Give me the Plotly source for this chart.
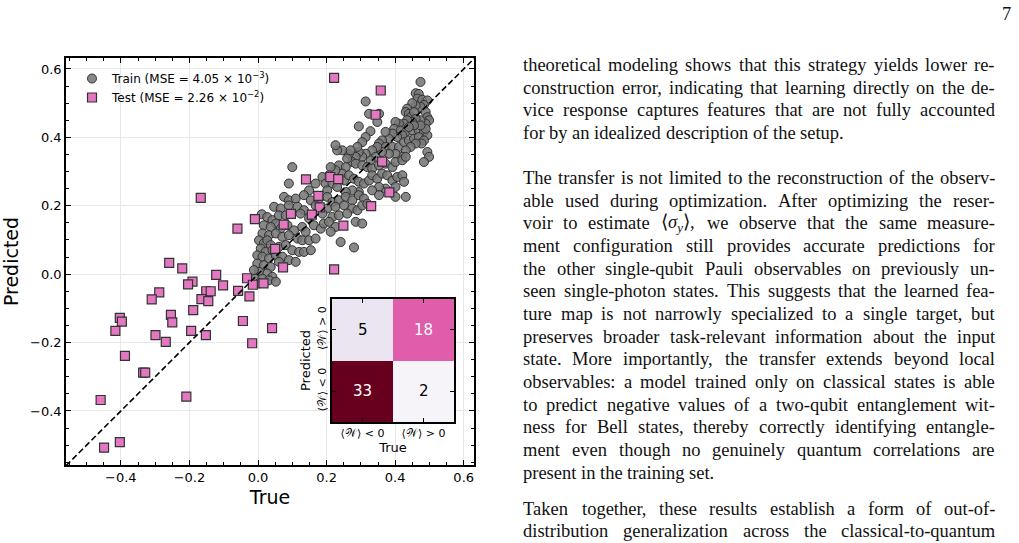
import plotly.graph_objects as go

# ---------------- data ----------------
train_true = [
    0.474, 0.460, 0.469, 0.465, 0.479, 0.494, 0.484, 0.474, 0.460, 0.450,
    0.435, 0.431, 0.440, 0.445, 0.455, 0.489, 0.494, 0.499, 0.489, 0.474,
    0.460, 0.450, 0.435, 0.426, 0.411, 0.401, 0.397, 0.416, 0.431, 0.450,
    0.469, 0.484, 0.494, 0.489, 0.474, 0.455, 0.440, 0.421, 0.406, 0.392,
    0.382, 0.372, 0.362, 0.353, 0.372, 0.392, 0.411, 0.426, 0.440, 0.455,
    0.469, 0.484, 0.477, 0.460, 0.445, 0.431, 0.421, 0.401, 0.382, 0.362,
    0.348, 0.333, 0.343, 0.328, 0.314, 0.304, 0.294, 0.285, 0.275, 0.265,
    0.246, 0.231, 0.226, 0.260, 0.285, 0.304, 0.319, 0.333, 0.353, 0.372,
    0.392, 0.401, 0.421, 0.431, 0.494, 0.499, 0.484, 0.314, 0.324, 0.353,
    0.348, 0.294, 0.328, 0.314, 0.304, 0.290, 0.270, 0.236, 0.256, 0.246,
    0.226, 0.212, 0.207, 0.188, 0.197, 0.217, 0.231, 0.251, 0.265, 0.280,
    0.294, 0.309, 0.324, 0.333, 0.348, 0.362, 0.377, 0.392, 0.406, 0.421,
    0.426, 0.401, 0.372, 0.353, 0.333, 0.294, 0.275, 0.256, 0.202, 0.168,
    0.149, 0.090, 0.100,
    0.076, 0.090, 0.110, 0.134, 0.154, 0.178, 0.202, 0.217, 0.236, 0.256,
    0.275, 0.294, 0.309, 0.353, 0.401, 0.431, 0.047, 0.066, 0.090, 0.115,
    0.134, 0.168, 0.202, 0.226, 0.251, 0.275, 0.290, 0.304, 0.319, 0.011,
    0.027, 0.042, 0.061, 0.081, 0.124, 0.149, 0.188, 0.217, 0.236, 0.260,
    0.285, 0.304, 0.052, 0.017, 0.037, 0.066, 0.086, 0.105, 0.129, 0.139,
    0.163, 0.183, 0.192, 0.207, 0.226, 0.212, 0.013, 0.032, 0.052, 0.071,
    0.090, 0.115, 0.129, 0.149, 0.168, 0.241, 0.280, 0.003, 0.017, 0.027,
    0.037, 0.008, 0.022, 0.042, 0.061, 0.081, 0.100, 0.120, 0.134, 0.154,
    -0.002, 0.013, 0.032, 0.052, 0.071, 0.090, 0.110, -0.002, 0.017, 0.037,
    0.003, 0.027, 0.042, -0.007, 0.013, 0.032, 0.052, 0.003, -0.012, 0.061,
]
train_pred = [
    0.562, 0.529, 0.527, 0.513, 0.510, 0.508, 0.495, 0.489, 0.493, 0.500,
    0.484, 0.474, 0.469, 0.459, 0.474, 0.474, 0.459, 0.450, 0.440, 0.450,
    0.454, 0.445, 0.450, 0.440, 0.440, 0.445, 0.425, 0.420, 0.416, 0.420,
    0.420, 0.416, 0.406, 0.425, 0.435, 0.435, 0.430, 0.406, 0.401, 0.411,
    0.396, 0.416, 0.391, 0.382, 0.372, 0.372, 0.372, 0.386, 0.391, 0.396,
    0.401, 0.391, 0.382, 0.382, 0.372, 0.362, 0.343, 0.352, 0.352, 0.357,
    0.372, 0.362, 0.343, 0.333, 0.352, 0.343, 0.357, 0.343, 0.328, 0.352,
    0.362, 0.362, 0.377, 0.338, 0.323, 0.318, 0.313, 0.309, 0.318, 0.323,
    0.313, 0.328, 0.333, 0.343, 0.357, 0.343, 0.328, 0.505, 0.469, 0.469,
    0.445, 0.432, 0.418, 0.401, 0.386, 0.372, 0.362, 0.318, 0.313, 0.294,
    0.304, 0.313, 0.289, 0.284, 0.265, 0.265, 0.255, 0.274, 0.289, 0.279,
    0.270, 0.265, 0.274, 0.289, 0.279, 0.294, 0.289, 0.274, 0.284, 0.289,
    0.270, 0.255, 0.250, 0.255, 0.245, 0.240, 0.245, 0.240, 0.245, 0.265,
    0.245, 0.265, 0.313,
    0.226, 0.216, 0.221, 0.231, 0.216, 0.221, 0.226, 0.211, 0.216, 0.226,
    0.216, 0.231, 0.221, 0.231, 0.226, 0.226, 0.197, 0.192, 0.201, 0.197,
    0.187, 0.201, 0.192, 0.197, 0.201, 0.192, 0.187, 0.201, 0.206, 0.175,
    0.167, 0.158, 0.172, 0.172, 0.177, 0.163, 0.177, 0.167, 0.172, 0.177,
    0.153, 0.148, 0.148, 0.143, 0.138, 0.133, 0.143, 0.128, 0.138, 0.124,
    0.143, 0.133, 0.148, 0.153, 0.138, 0.124, 0.119, 0.114, 0.119, 0.109,
    0.114, 0.104, 0.099, 0.099, 0.104, 0.094, 0.078, 0.099, 0.090, 0.099,
    0.085, 0.075, 0.065, 0.070, 0.080, 0.085, 0.070, 0.065, 0.065, 0.070,
    0.055, 0.051, 0.046, 0.055, 0.051, 0.041, 0.036, 0.031, 0.026, 0.021,
    0.007, 0.002, -0.008, -0.013, -0.013, -0.018, -0.022, -0.027, 0.012, 0.036,
]

test_true = [
    0.222, 0.358, 0.343, 0.362, 0.140, 0.211, 0.234, 0.383, 0.176, 0.330,
    0.180, 0.096, 0.157, -0.009, 0.075, 0.249, -0.060, 0.050, 0.073, 0.222,
    -0.032, -0.015, 0.016, -0.058, -0.025, -0.044, 0.041, -0.017, -0.167, -0.259,
    -0.221, -0.191, -0.204, -0.122, -0.102, -0.151, -0.138, -0.165, -0.145, -0.288,
    -0.310, -0.189, -0.254, -0.250, -0.403, -0.397, -0.416, -0.299, -0.195, -0.152,
    -0.269, -0.388, -0.335, -0.329, -0.459, -0.209, -0.403, -0.449,
]
test_pred = [
    0.574, 0.537, 0.466, 0.329, 0.277, 0.284, 0.278, 0.239, 0.229, 0.199,
    0.195, 0.176, 0.174, 0.161, 0.145, 0.142, 0.133, 0.074, 0.020, 0.014,
    -0.012, -0.031, -0.027, -0.049, -0.065, -0.137, -0.158, -0.202, 0.223, 0.033,
    0.017, -0.022, -0.030, -0.002, -0.033, -0.050, -0.050, -0.073, -0.079, -0.053,
    -0.074, -0.105, -0.119, -0.141, -0.128, -0.139, -0.166, -0.178, -0.166, -0.178,
    -0.198, -0.239, -0.288, -0.288, -0.368, -0.358, -0.491, -0.507,
]

train_label = "Train (MSE = 4.05 × 10<sup>−3</sup>)"
test_label = "Test (MSE = 2.26 × 10<sup>−2</sup>)"

x_ticks = [-0.4, -0.2, 0.0, 0.2, 0.4, 0.6]
y_ticks = [-0.4, -0.2, 0.0, 0.2, 0.4, 0.6]
x_range = [-0.56, 0.63]
y_range = [-0.558, 0.632]

# confusion matrix: rows = predicted (<0, >0), cols = true (<0, >0)
cm_counts = [[33, 2], [5, 18]]
cm_labels = ["⟨𝒲⟩ < 0", "⟨𝒲⟩ > 0"]

page_number = "7"
paragraphs = [
    ([
        "theoretical modeling shows that this strategy yields lower re-",
        "construction error, indicating that learning directly on the de-",
        "vice response captures features that are not fully accounted",
        "for by an idealized description of the setup.",
    ], True),
    ([
        "The transfer is not limited to the reconstruction of the observ-",
        "able used during optimization. After optimizing the reser-",
        "voir to estimate ⟨σy⟩, we observe that the same measure-",
        "ment configuration still provides accurate predictions for",
        "the other single-qubit Pauli observables on previously un-",
        "seen single-photon states. This suggests that the learned fea-",
        "ture map is not narrowly specialized to a single target, but",
        "preserves broader task-relevant information about the input",
        "state. More importantly, the transfer extends beyond local",
        "observables: a model trained only on classical states is able",
        "to predict negative values of a two-qubit entanglement wit-",
        "ness for Bell states, thereby correctly identifying entangle-",
        "ment even though no genuinely quantum correlations are",
        "present in the training set.",
    ], True),
    ([
        "Taken together, these results establish a form of out-of-",
        "distribution generalization across the classical-to-quantum",
    ], False),
]

# ---------------- figure ----------------
W, H = 1019, 543
fig = go.Figure()

fig.add_trace(go.Scatter(
    x=train_true, y=train_pred, mode="markers", name=train_label,
    marker=dict(symbol="circle", size=9, color="rgba(120,120,120,0.88)",
                line=dict(color="#303030", width=1)),
    xaxis="x", yaxis="y"))
fig.add_trace(go.Scatter(
    x=test_true, y=test_pred, mode="markers", name=test_label,
    marker=dict(symbol="square", size=9, color="#e377c2",
                line=dict(color="#333333", width=1.2)),
    xaxis="x", yaxis="y"))
lo = min(x_range[0], y_range[0])
hi = max(x_range[1], y_range[1])
fig.add_trace(go.Scatter(
    x=[lo, hi], y=[lo, hi], mode="lines", showlegend=False, hoverinfo="skip",
    line=dict(color="black", width=1.6, dash="6px,3px"), xaxis="x", yaxis="y"))

zmin = min(min(r) for r in cm_counts)
zmax = max(max(r) for r in cm_counts)
fig.add_trace(go.Heatmap(
    z=cm_counts, x=[0, 1], y=[0, 1], colorscale="PuRd", zmin=zmin, zmax=zmax,
    showscale=False, xaxis="x2", yaxis="y2", hoverinfo="skip"))

annotations = []
for i, row in enumerate(cm_counts):
    for j, v in enumerate(row):
        frac = (v - zmin) / (zmax - zmin)
        annotations.append(dict(
            x=j, y=i, xref="x2", yref="y2", text=str(v), showarrow=False,
            font=dict(family="DejaVu Sans", size=15,
                      color="white" if frac > 0.45 else "black")))

def px_x(v):
    return v / W

def px_y(v):
    return 1 - v / H

main_x_dom = [px_x(66), px_x(474)]
main_y_dom = [px_y(465), px_y(58)]
ins_x_dom = [px_x(332), px_x(454)]
ins_y_dom = [px_y(422), px_y(299)]

axis_common = dict(
    ticks="inside", ticklen=5, tickwidth=1.1, tickcolor="black",
    showline=True, linecolor="black", linewidth=1.5, mirror="ticks",
    showgrid=True, gridcolor="#e8e8e8", gridwidth=1, zeroline=False,
    tickformat=".1f", tickfont=dict(size=13, color="black"),
    minor=dict(tickmode="linear", tick0=0, dtick=0.05, ticks="inside",
               ticklen=3, tickcolor="black", tickwidth=1, showgrid=False),
)
inset_common = dict(
    ticks="inside", ticklen=4, tickwidth=1, tickcolor="black",
    showline=True, linecolor="black", linewidth=1.5, mirror="ticks",
    showgrid=False, zeroline=False, range=[-0.5, 1.5],
    tickvals=[0, 1], ticktext=cm_labels,
    tickfont=dict(size=11, color="black"),
)

fig.update_layout(
    width=W, height=H, margin=dict(l=0, r=0, t=0, b=0),
    paper_bgcolor="white", plot_bgcolor="white",
    font=dict(family="DejaVu Sans", color="black"),
    showlegend=True,
    legend=dict(x=px_x(72), y=px_y(64), xanchor="left", yanchor="top",
                bgcolor="rgba(0,0,0,0)", font=dict(size=12, color="black"),
                itemwidth=30, tracegroupgap=0),
    xaxis=dict(domain=main_x_dom, range=x_range, tickvals=x_ticks, anchor="y",
               title=dict(text="True", font=dict(size=19), standoff=6),
               **axis_common),
    yaxis=dict(domain=main_y_dom, range=y_range, tickvals=y_ticks, anchor="x",
               title=dict(text="Predicted", font=dict(size=19), standoff=10),
               **axis_common),
    xaxis2=dict(domain=ins_x_dom, anchor="y2",
                title=dict(text="True", font=dict(size=13), standoff=2),
                **inset_common),
    yaxis2=dict(domain=ins_y_dom, anchor="x2", tickangle=-90,
                title=dict(text="Predicted", font=dict(size=13), standoff=2),
                **inset_common),
)

# ---------------- page text (justified) ----------------
TXT_FONT = "Liberation Serif"
TXT_SIZE = 18.5
COL_L, COL_R = 522, 994
BASE0, LINE_H = 71.0, 22.67
PARA_OFFSETS = [0.0, 22.3, 35.5]

_w = dict(zip("abcdefghijklmnopqrstuvwxyz",
              [444, 500, 444, 500, 444, 333, 500, 500, 278, 278, 500, 278, 778,
               500, 500, 500, 500, 333, 389, 278, 500, 500, 722, 500, 500, 444]))
_w.update(zip("ABCDEFGHIJKLMNOPQRSTUVWXYZ",
              [722, 667, 667, 722, 611, 556, 722, 722, 333, 389, 722, 611, 889,
               722, 722, 556, 722, 667, 556, 611, 722, 722, 944, 722, 722, 611]))
_w.update({" ": 250, ",": 250, ".": 250, "-": 333, ":": 278, ";": 278,
           "(": 333, ")": 333, "⟨": 390, "⟩": 390, "σ": 540})


def word_render(wd):
    if wd.startswith("⟨σy⟩"):
        rest = wd[len("⟨σy⟩"):]
        html = "⟨<i>σ</i><sub><i>y</i></sub>⟩" + rest
        width = (390 + 540 + 350 + 390 + sum(_w.get(c, 500) for c in rest)) / 1000 * TXT_SIZE
        return html, width
    return wd, sum(_w.get(c, 500) for c in wd) / 1000 * TXT_SIZE


def add_word(html, xpx, base):
    annotations.append(dict(
        x=px_x(xpx), y=px_y(base - 0.32 * TXT_SIZE), xref="paper", yref="paper",
        xanchor="left", yanchor="middle", text=html, showarrow=False,
        borderpad=0, font=dict(family=TXT_FONT, size=TXT_SIZE, color="#111111")))


gi = 0
for pi, (lines, ends) in enumerate(paragraphs):
    for li, line in enumerate(lines):
        base = BASE0 + LINE_H * gi + PARA_OFFSETS[pi]
        words = [word_render(wd) for wd in line.split()]
        last = ends and li == len(lines) - 1
        total = sum(w for _, w in words)
        if last or len(words) < 2:
            gap = 0.25 * TXT_SIZE
        else:
            gap = (COL_R - COL_L - total) / (len(words) - 1)
        x = COL_L
        for html, w in words:
            add_word(html, x, base)
            x += w + gap
        gi += 1

annotations.append(dict(
    x=px_x(1012), y=px_y(19.5 - 0.32 * TXT_SIZE), xref="paper", yref="paper",
    xanchor="right", yanchor="middle", text=page_number, showarrow=False,
    borderpad=0, font=dict(family=TXT_FONT, size=TXT_SIZE, color="#111111")))

fig.update_layout(annotations=annotations)
fig.write_html("out.html")
